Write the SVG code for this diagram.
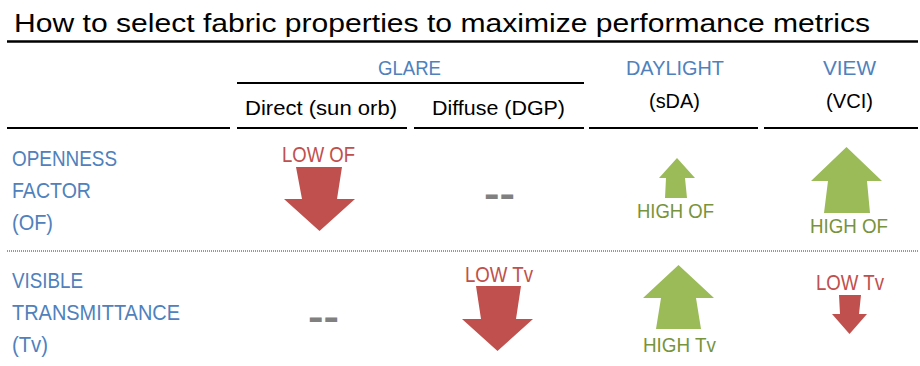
<svg xmlns="http://www.w3.org/2000/svg" width="920" height="366" viewBox="0 0 920 366">
<style>
text{font-family:"Liberation Sans",Arial,sans-serif;}
.title{font-size:26.5px;fill:#000;}
.hd{font-size:21px;fill:#000;}
.cat{font-size:19.5px;fill:#4F81BD;}
.row{font-size:21.5px;fill:#4F81BD;}
.lowt{font-size:21.5px;fill:#C0504D;}
.hight{font-size:21px;fill:#77933C;}
.dash{font-size:36px;font-weight:bold;fill:#808080;}
.red{fill:#C0504D;}
.green{fill:#9BBB59;}
.rule{stroke:#000;stroke-width:2.2;fill:none;}
.dot{stroke:#333;stroke-width:1;stroke-dasharray:1 1;fill:none;}
</style>
<rect width="920" height="366" fill="#fff"/>
<g id="title">
<text class="title" x="14" y="32" textLength="856" lengthAdjust="spacingAndGlyphs">How to select fabric properties to maximize performance metrics</text>
</g>
<g id="connectors">
<line class="rule" x1="7" y1="41.5" x2="918" y2="41.5" style="stroke-width:2.6"/>
<line class="rule" x1="237" y1="83" x2="584" y2="83"/>
<line class="rule" x1="7" y1="128" x2="230" y2="128"/>
<line class="rule" x1="237" y1="128" x2="407" y2="128"/>
<line class="rule" x1="414" y1="128" x2="584" y2="128"/>
<line class="rule" x1="589" y1="128" x2="758" y2="128"/>
<line class="rule" x1="764" y1="128" x2="918" y2="128"/>
<line class="dot" x1="7" y1="251" x2="918" y2="251"/>
</g>
<g id="hdr-glare">
<text class="cat" x="378" y="75" textLength="63" lengthAdjust="spacingAndGlyphs">GLARE</text>
</g>
<g id="hdr-direct">
<text class="hd" x="245" y="115" textLength="152" lengthAdjust="spacingAndGlyphs">Direct (sun orb)</text>
</g>
<g id="hdr-diffuse">
<text class="hd" x="432" y="115" textLength="133" lengthAdjust="spacingAndGlyphs">Diffuse (DGP)</text>
</g>
<g id="hdr-daylight">
<text class="cat" x="626" y="75" textLength="98" lengthAdjust="spacingAndGlyphs">DAYLIGHT</text>
<text class="hd" x="649" y="108" textLength="51" lengthAdjust="spacingAndGlyphs">(sDA)</text>
</g>
<g id="hdr-view">
<text class="cat" x="823" y="75" textLength="53" lengthAdjust="spacingAndGlyphs">VIEW</text>
<text class="hd" x="826" y="108" textLength="47" lengthAdjust="spacingAndGlyphs">(VCI)</text>
</g>
<g id="row-of">
<text class="row" x="12" y="166" textLength="105" lengthAdjust="spacingAndGlyphs">OPENNESS</text>
<text class="row" x="12" y="198" textLength="79" lengthAdjust="spacingAndGlyphs">FACTOR</text>
<text class="row" x="12" y="230" textLength="41" lengthAdjust="spacingAndGlyphs">(OF)</text>
</g>
<g id="row-tv">
<text class="row" x="12" y="288" textLength="71" lengthAdjust="spacingAndGlyphs">VISIBLE</text>
<text class="row" x="12" y="320" textLength="168" lengthAdjust="spacingAndGlyphs">TRANSMITTANCE</text>
<text class="row" x="12" y="352" textLength="36" lengthAdjust="spacingAndGlyphs">(Tv)</text>
</g>
<g id="of-direct">
<text class="lowt" x="282" y="162" textLength="73" lengthAdjust="spacingAndGlyphs">LOW OF</text>
<polygon class="red" points="296,167 342,167 337,199 355,199 319.5,231 284,199 302,199"/>
</g>
<g id="of-diffuse">
<text class="dash" x="484" y="206" textLength="31" lengthAdjust="spacingAndGlyphs">--</text>
</g>
<g id="of-daylight">
<polygon class="green" points="677,158 695,178 685,178 687,198 665,198 666,178 659,178"/>
<text class="hight" x="637" y="218" textLength="77" lengthAdjust="spacingAndGlyphs">HIGH OF</text>
</g>
<g id="of-view">
<polygon class="green" points="846.5,147 882,181 867,181 870,213 824,213 828,181 811,181"/>
<text class="hight" x="810" y="233" textLength="78" lengthAdjust="spacingAndGlyphs">HIGH OF</text>
</g>
<g id="tv-direct">
<text class="dash" x="308" y="329" textLength="31" lengthAdjust="spacingAndGlyphs">--</text>
</g>
<g id="tv-diffuse">
<text class="lowt" x="465" y="282" textLength="68" lengthAdjust="spacingAndGlyphs">LOW Tv</text>
<polygon class="red" points="476,286 521,286 516,319 533,319 497.5,351 462,319 481,319"/>
</g>
<g id="tv-daylight">
<polygon class="green" points="678.5,265 714,298 696,298 701,329 656,329 661,298 643,298"/>
<text class="hight" x="643" y="352" textLength="73" lengthAdjust="spacingAndGlyphs">HIGH Tv</text>
</g>
<g id="tv-view">
<text class="lowt" x="816" y="290" textLength="68" lengthAdjust="spacingAndGlyphs">LOW Tv</text>
<polygon class="red" points="839,295 861,295 859,314 867,314 849.5,334 832,314 840,314"/>
</g>
</svg>
